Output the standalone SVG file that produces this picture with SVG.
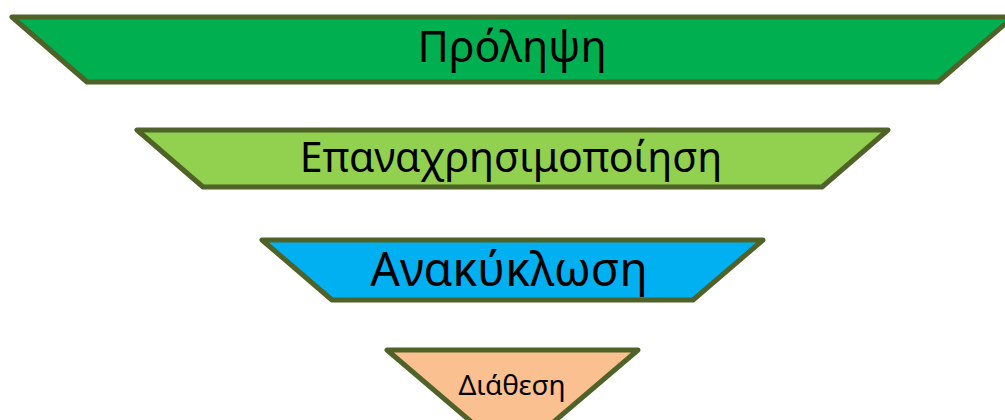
<svg xmlns="http://www.w3.org/2000/svg" width="1005" height="420" viewBox="0 0 1005 420">
<style>
.shape{stroke:#4F6228;stroke-width:5;stroke-linejoin:round}
.lbl{font-family:"Noto Sans","DejaVu Sans",sans-serif;fill:#000;text-anchor:middle}
</style>
<rect width="1005" height="420" fill="#fff"/>
<g id="node-prolipsi">
<polygon class="shape" fill="#00B050" points="12,17 1013,17 938,82 87,82"/>
<text class="lbl" x="512" y="62" font-size="43">Πρόληψη</text>
</g>
<g id="node-epanachrisimopoiisi">
<polygon class="shape" fill="#92D050" points="137,130 888,130 822,187 203,187"/>
<text class="lbl" x="511" y="172" font-size="41">Επαναχρησιμοποίηση</text>
</g>
<g id="node-anakyklosi">
<polygon class="shape" fill="#00B0F0" points="262,240 763,240 693,300 332,300"/>
<text class="lbl" x="509" y="286" font-size="46.5">Ανακύκλωση</text>
</g>
<g id="node-diathesi">
<polygon class="shape" fill="#FAC090" points="387,350 638,350 512.5,457"/>
<text class="lbl" x="512" y="395" font-size="28">Διάθεση</text>
</g>
<g id="connectors"></g>
</svg>
